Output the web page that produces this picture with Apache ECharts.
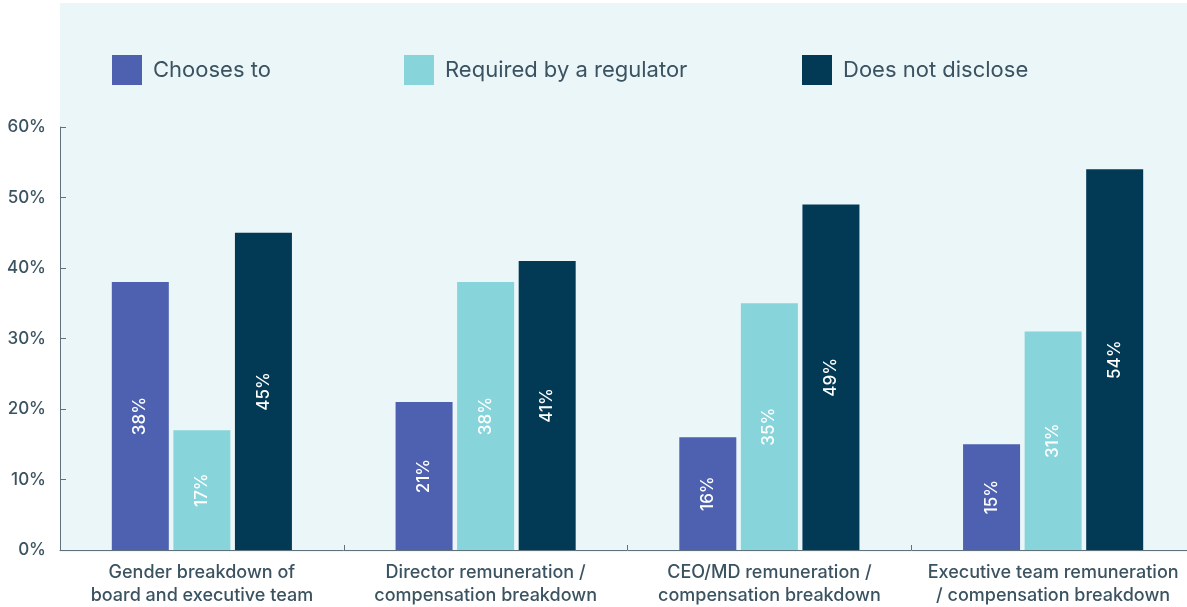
<!DOCTYPE html>
<html><head><meta charset="utf-8">
<script src="https://cdn.jsdelivr.net/npm/echarts@6/dist/echarts.min.js"></script>
<style>html,body{margin:0;padding:0;background:#fff;overflow:hidden;width:1187px;height:607px}#c{width:1196px;height:607px}</style>
</head><body><div id="c"></div>
<script>
const categories = [
  'Gender breakdown of\nboard and executive team',
  'Director remuneration /\ncompensation breakdown',
  'CEO/MD remuneration /\ncompensation breakdown',
  'Executive team remuneration\n/ compensation breakdown'
];
const seriesNames = ['Chooses to', 'Required by a regulator', 'Does not disclose'];
const choosesTo = [38, 21, 16, 15];
const requiredByRegulator = [17, 38, 35, 31];
const doesNotDisclose = [45, 41, 49, 54];
const yTicks = [0, 10, 20, 30, 40, 50, 60];

const colors = ['#4d61b0', '#87d4db', '#023a56'];
const textColor = '#3b5361';
const font = 'Inter, "Noto Sans", sans-serif';
const chart = echarts.init(document.getElementById('c'), null, {renderer: 'canvas'});
const values = [choosesTo, requiredByRegulator, doesNotDisclose];
const legendLefts = [107, 399, 797];

chart.setOption({
  animation: false,
  backgroundColor: '#ffffff',
  graphic: [{type: 'rect', z: -10, shape: {x: 60, y: 3, width: 1136, height: 549}, style: {fill: '#ebf6f8'}, silent: true}],
  grid: {left: 60, top: 127, height: 425, width: 1135},
  legend: seriesNames.map((n, i) => ({
    data: [n], left: legendLefts[i], top: 50, itemWidth: 30, itemHeight: 30, itemGap: 10,
    icon: 'rect', textStyle: {fontSize: 22, color: textColor, fontFamily: font, padding: [0, 0, 0, 6]},
    selectedMode: false
  })),
  xAxis: {
    type: 'category', data: categories,
    axisLine: {lineStyle: {color: '#5f727c', width: 1}},
    axisTick: {show: true, inside: true, length: 5, lineStyle: {color: '#5f727c'}},
    axisLabel: {color: textColor, fontSize: 18, fontWeight: 500, fontFamily: font, lineHeight: 23, margin: 11, interval: 0}
  },
  yAxis: {
    type: 'value', min: 0, max: 60, interval: 10,
    axisLine: {show: true, lineStyle: {color: '#5f727c'}},
    axisTick: {show: true, inside: true, length: 6, lineStyle: {color: '#5f727c'}},
    splitLine: {show: false},
    axisLabel: {color: textColor, fontSize: 17, fontWeight: 500, fontFamily: font, margin: 14,
      formatter: v => yTicks.includes(v) ? v + '%' : ''}
  },
  series: seriesNames.map((n, i) => ({
    name: n, type: 'bar', data: values[i], barWidth: 57, barGap: '8%',
    itemStyle: {color: colors[i]},
    label: {show: true, position: 'inside', rotate: 90, color: '#ffffff', fontSize: 17, fontWeight: 500,
      fontFamily: font, formatter: p => p.value + '%'}
  }))
});
</script></body></html>
